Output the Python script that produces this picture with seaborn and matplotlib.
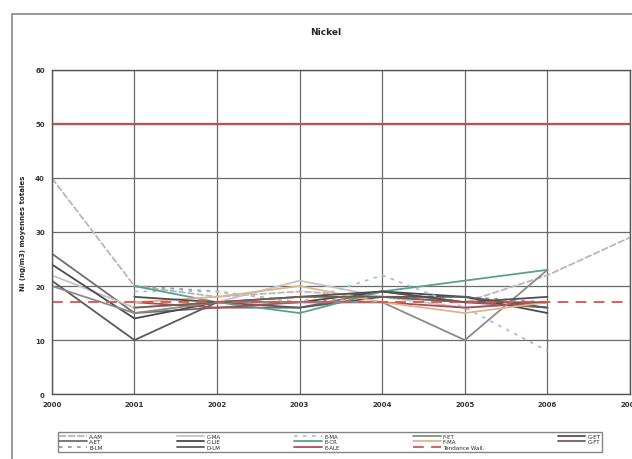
import numpy as np
import pandas as pd
import matplotlib
matplotlib.use("Agg")
import matplotlib.pyplot as plt
from matplotlib.patches import Rectangle
import seaborn as sns

years = [2000, 2001, 2002, 2003, 2004, 2005, 2006, 2007]
nan = np.nan

# Annual mean nickel concentrations per station (ng/m3)
a_am  = [40, 20, 18, 19, 18, 17, 22, 29]
a_et  = [26, 15, 16, 16, 19, 17, 16, nan]
b_lm  = [nan, 20, 19, 17, 18, 18, 17, nan]
c_ma  = [22, 16, 17, 21, 18, 16, 17, nan]
c_lie = [24, 14, 17, 17, 19, 18, 15, nan]
d_lm  = [21, 10, 17, 16, 18, 18, 16, nan]
e_ma  = [nan, 19, 19, 17, 22, 16, 8, nan]
e_cr  = [nan, 20, 17, 15, 19, 21, 23, nan]
e_ale = [nan, 17, 16, 17, 17, 16, 17, nan]
f_et  = [20, 15, 17, 17, 17, 10, 23, nan]
f_ma  = [nan, 17, 18, 20, 17, 15, 17, nan]
g_et  = [nan, 18, 17, 18, 19, 17, 18, nan]
g_ft  = [nan, 16, 17, 18, 18, 17, 17, nan]

limit_value = 50
wallonia_trend = 17

labels = ["A-AM", "A-ET", "B-LM", "C-MA", "C-LIE", "D-LM", "E-MA", "E-CR",
          "E-ALE", "F-ET", "F-MA", "G-ET", "G-FT"]
series = [a_am, a_et, b_lm, c_ma, c_lie, d_lm, e_ma, e_cr, e_ale, f_et, f_ma, g_et, g_ft]

styles = {
    "A-AM":  ("#b8b8b8", (0, (4, 1))),
    "A-ET":  ("#6e6e6e", "-"),
    "B-LM":  ("#9a9a9a", (0, (2, 3))),
    "C-MA":  ("#c4c4c4", "-"),
    "C-LIE": ("#4a4a4a", "-"),
    "D-LM":  ("#5a5a5a", "-"),
    "E-MA":  ("#9fc4dc", (0, (2, 3))),
    "E-CR":  ("#5aa08e", "-"),
    "E-ALE": ("#b04a58", "-"),
    "F-ET":  ("#8a8a8a", "-"),
    "F-MA":  ("#e0b48a", "-"),
    "G-ET":  ("#505050", "-"),
    "G-FT":  ("#7a5a50", "-"),
}

rows = []
for lab, vals in zip(labels, series):
    for yr, v in zip(years, vals):
        rows.append({"year": yr, "value": v, "station": lab})
df = pd.DataFrame(rows).dropna()

sns.set_style("white")
plt.rcParams['font.family'] = ['DejaVu Sans']

fig = plt.figure(figsize=(6.32, 4.60), dpi=100)
fig.patch.set_facecolor("white")
ax = fig.add_axes([0.082, 0.141, 0.915, 0.705])

handles = {}
for lab in labels:
    col, ls = styles[lab]
    sub = df[df.station == lab]
    sns.lineplot(data=sub, x="year", y="value", ax=ax, color=col,
                 linestyle=ls, linewidth=1.3, legend=False)
    handles[lab] = ax.lines[-1]

h_lim = ax.axhline(limit_value, color="#c0504d", linewidth=1.6)
h_trend = ax.axhline(wallonia_trend, color="#d9534f", linewidth=1.3,
                     linestyle=(0, (6, 4)))

ax.set_xlim(2000, 2007)
ax.set_ylim(0, 60)
ax.set_xticks(years)
ax.set_xticklabels([str(y) for y in years], fontsize=5, fontweight="bold")
ax.set_yticks(range(0, 61, 10))
ax.set_yticklabels([str(v) for v in range(0, 61, 10)], fontsize=5,
                   fontweight="bold")
ax.grid(True, color="#6a6a6a", linewidth=0.9)
ax.set_axisbelow(True)
for s in ax.spines.values():
    s.set_color("#555555")
    s.set_linewidth(1.0)
ax.tick_params(length=2, pad=3, colors="#333333")
ax.set_xlabel("")
ax.set_ylabel("Ni (ng/m3) moyennes totales", fontsize=5, fontweight="bold")
ax.yaxis.set_label_coords(-0.045, 0.5)

fig.text(0.515, 0.93, "Nickel", ha="center", va="center",
         fontsize=6.5, fontweight="bold")

# outer frame of the figure
fig.add_artist(Rectangle((0.019, -0.01), 1.0, 0.978, transform=fig.transFigure,
                         fill=False, edgecolor="#888888", linewidth=1.2))

leg_order = [handles["A-AM"], handles["A-ET"], handles["B-LM"],
             handles["C-MA"], handles["C-LIE"], handles["D-LM"],
             handles["E-MA"], handles["E-CR"], handles["E-ALE"],
             handles["F-ET"], handles["F-MA"], h_trend,
             handles["G-ET"], handles["G-FT"]]
leg_labels = ["A-AM", "A-ET", "B-LM", "C-MA", "C-LIE", "D-LM",
              "E-MA", "E-CR", "E-ALE", "F-ET", "F-MA", "Tendance Wall.",
              "G-ET", "G-FT"]
leg = fig.legend(leg_order, leg_labels, loc="lower left",
                 bbox_to_anchor=(0.087, 0.01, 0.87, 0.065), mode="expand",
                 ncol=5, fontsize=4, frameon=True, fancybox=False,
                 handlelength=5, handletextpad=0.4, borderpad=0.3,
                 labelspacing=0.1, columnspacing=1.0)
leg.get_frame().set_edgecolor("#666666")
leg.get_frame().set_linewidth(1.0)

fig.savefig("out.png", dpi=100, facecolor="white")
